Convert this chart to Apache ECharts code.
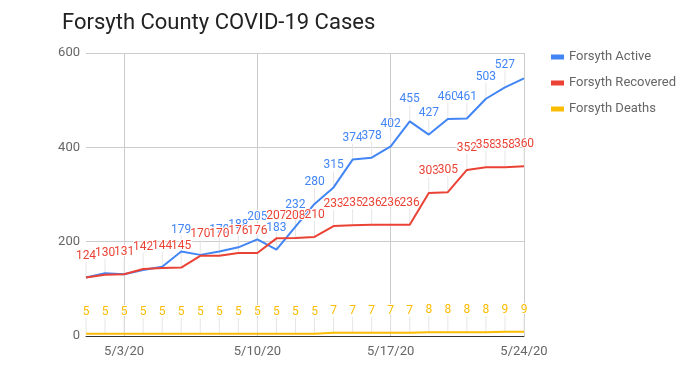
<!DOCTYPE html>
<html><head><meta charset="utf-8">
<script src="https://cdn.jsdelivr.net/npm/echarts@6/dist/echarts.min.js"></script>
<style>html,body{margin:0;padding:0;background:#fff}#c{width:698px;height:374px}</style>
</head><body><div id="c"></div>
<script>
const dates = ['5/1/20','5/2/20','5/3/20','5/4/20','5/5/20','5/6/20','5/7/20','5/8/20','5/9/20','5/10/20','5/11/20','5/12/20','5/13/20','5/14/20','5/15/20','5/16/20','5/17/20','5/18/20','5/19/20','5/20/20','5/21/20','5/22/20','5/23/20','5/24/20'];
const active = [124,133,131,140,147,179,172,179,188,205,183,232,280,315,374,378,402,455,427,460,461,503,527,546];
const recovered = [124,130,131,142,144,145,170,170,176,176,207,208,210,233,235,236,236,236,303,305,352,358,358,360];
const deaths = [5,5,5,5,5,5,5,5,5,5,5,5,5,7,7,7,7,7,8,8,8,8,9,9];
const yTicks = [0,200,400,600];
const hiddenActiveLabels = [0,1,2,3,4,6,23];

const FONT = 'Roboto, "Noto Sans", sans-serif';
const C_BLUE = '#4285F4', C_RED = '#EA4335', C_YEL = '#FBBC04';
const STEM = 16;

function lineSeries(name, vals, color, hidden) {
  return {
    name, type: 'line', z: 3,
    data: vals.map((v, i) => hidden && hidden.includes(i) ? {value: v, label: {show: false}} : v),
    symbol: 'circle', symbolSize: 0, showSymbol: true,
    lineStyle: {color, width: 2}, itemStyle: {color},
    label: {show: true, position: 'top', distance: STEM, color, fontSize: 12, fontFamily: FONT,
            textBorderColor: '#fff', textBorderWidth: 2}
  };
}
function stemSeries(vals, hidden) {
  return {
    type: 'custom', z: 1, silent: true,
    data: vals.map((v, i) => [i, v]).filter(d => !(hidden && hidden.includes(d[0]))),
    encode: {x: 0, y: 1},
    renderItem: function (params, api) {
      const p = api.coord([api.value(0), api.value(1)]);
      return {type: 'line', shape: {x1: p[0], y1: p[1], x2: p[0], y2: p[1] - STEM},
              style: {stroke: '#e6e6e6', lineWidth: 1}};
    }
  };
}
const tickIdx = (i) => (i - 2) % 7 === 0;

const chart = echarts.init(document.getElementById('c'), null, {renderer: 'canvas'});
chart.setOption({
  animation: false,
  backgroundColor: '#fff',
  title: {text: 'Forsyth County COVID-19 Cases', left: 57, top: 7,
          textStyle: {fontFamily: FONT, fontSize: 22, fontWeight: 'normal', color: '#222'}},
  legend: {orient: 'vertical', left: 546, top: 45, itemWidth: 13, itemHeight: 5, itemGap: 12, icon: 'rect',
           data: ['Forsyth Active','Forsyth Recovered','Forsyth Deaths'],
           textStyle: {fontFamily: FONT, fontSize: 13, color: '#666', lineHeight: 14}},
  grid: {left: 86, right: 174, top: 53, bottom: 38},
  xAxis: {type: 'category', data: dates, boundaryGap: false,
          axisLine: {show: true, onZero: true, lineStyle: {color: '#333', width: 1}},
          axisTick: {show: false},
          axisLabel: {interval: (i) => tickIdx(i), color: '#666', fontSize: 13, fontFamily: FONT, margin: 9},
          splitLine: {show: true, interval: (i) => tickIdx(i), lineStyle: {color: '#ccc', width: 1}}},
  yAxis: {type: 'value', min: yTicks[0], max: yTicks[yTicks.length-1], interval: 200,
          axisLine: {show: false}, axisTick: {show: false},
          axisLabel: {color: '#666', fontSize: 13, fontFamily: FONT, margin: 6},
          splitLine: {lineStyle: {color: '#ccc', width: 1}}},
  series: [
    stemSeries(active, hiddenActiveLabels), stemSeries(recovered), stemSeries(deaths),
    lineSeries('Forsyth Active', active, C_BLUE, hiddenActiveLabels),
    lineSeries('Forsyth Recovered', recovered, C_RED),
    lineSeries('Forsyth Deaths', deaths, C_YEL)
  ]
});
</script></body></html>
